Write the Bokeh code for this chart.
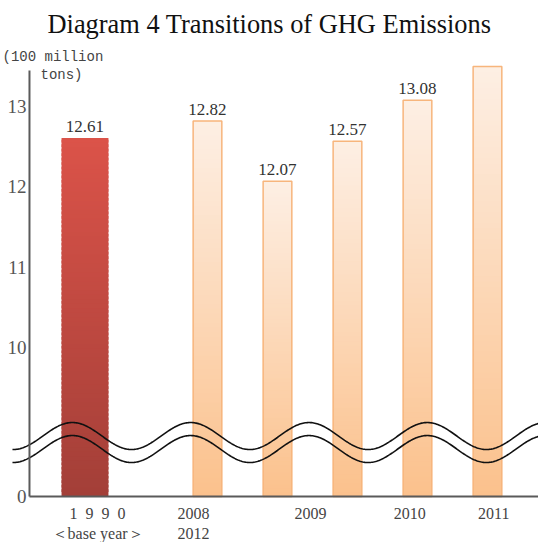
import numpy as np
from bokeh.plotting import figure
from bokeh.models import Range1d, Label
from bokeh.embed import file_html
from bokeh.resources import INLINE
from bokeh.core.properties import value

# ---------------- data ----------------
title_text = "Diagram 4 Transitions of GHG Emissions"
years = ["1990", "2008", "2009", "2010", "2011", "2012"]
emissions = [12.61, 12.82, 12.07, 12.57, 13.08, 13.50]
value_labels = ["12.61", "12.82", "12.07", "12.57", "13.08", ""]
x_tick_labels = ["1\u20029\u20029\u20020\n\uff1cbase year\uff1e", "2008\n2012", "2009", "2010", "2011"]
y_tick_values = [0, 10, 11, 12, 13]
y_tick_labels = ["0", "10", "11", "12", "13"]
unit_lines = ["(100 million", "tons)"]

# ---------------- layout ----------------
BREAK_AT = 10.0        # values below this are cut out of the axis
BREAK_DISPLAY = 1.855  # display height at which BREAK_AT is drawn


def disp(v):
    return 0.0 if v <= 0 else v - BREAK_AT + BREAK_DISPLAY


bar_x = [0, 1.75, 2.75, 3.75, 4.75, 5.75]
bar_w = [0.67, 0.41, 0.41, 0.41, 0.41, 0.41]
x_label_pos = [0.18, 1.55, 3.22, 4.64, 5.84]
x_start, x_end = -1.207, 6.479
axis_x = -0.793
y_start, y_end = -0.573, 5.679
y_axis_top_value = 13.45

W, H = 538, 542
p = figure(width=W, height=H, output_backend="svg", toolbar_location=None,
           x_range=Range1d(x_start, x_end), y_range=Range1d(y_start, y_end),
           min_border_left=0, min_border_right=0, min_border_top=40, min_border_bottom=0)
p.outline_line_color = None
p.xgrid.grid_line_color = None
p.ygrid.grid_line_color = None
p.background_fill_color = "white"
p.border_fill_color = "white"
p.xaxis.visible = False
p.yaxis.visible = False

# title
p.title.text = title_text
p.title.text_font = "Liberation Serif"
p.title.text_font_size = "26.4px"
p.title.text_font_style = "normal"
p.title.text_color = "#111111"
p.title.align = "left"
p.title.offset = 47
p.title.standoff = 4


def mix(c1, c2, t):
    a = [int(c1[i:i + 2], 16) for i in (1, 3, 5)]
    b = [int(c2[i:i + 2], 16) for i in (1, 3, 5)]
    return "#%02x%02x%02x" % tuple(int(round(a[k] + (b[k] - a[k]) * t)) for k in range(3))


# gradient bars
N = 80
L, R, B, T, C = [], [], [], [], []
for i, (xc, v) in enumerate(zip(bar_x, emissions)):
    top = disp(v)
    w = bar_w[i]
    if i == 0:
        c_top, c_bot = "#db5349", "#a33f38"
    else:
        c_top, c_bot = "#fdefe4", "#fbc18c"
    for k in range(N):
        y0 = top * k / N
        y1 = min(top, top * (k + 1.6) / N)
        L.append(xc - w / 2)
        R.append(xc + w / 2)
        B.append(y0)
        T.append(y1)
        C.append(mix(c_bot, c_top, (k + 0.5) / N))
p.quad(left=L, right=R, bottom=B, top=T, fill_color=C, line_color=None)

# outlines of the orange bars
ox = bar_x[1:]
ow = bar_w[1:]
p.quad(left=[x - w / 2 for x, w in zip(ox, ow)], right=[x + w / 2 for x, w in zip(ox, ow)],
       bottom=[0] * len(ox), top=[disp(v) for v in emissions[1:]],
       fill_color=None, line_color="#f7b57c", line_width=1.5)

# value labels
p.text(x=bar_x, y=[disp(v) for v in emissions], text=value_labels,
       text_font=value("Liberation Serif"), text_font_size="17px", text_color="#333333",
       text_align="center", text_baseline="bottom", y_offset=-6)

# wavy break marks
wx = np.linspace(-1.036, x_end + 0.1, 500)
period = 1.69
x_peak = -0.18
wave_center = 0.753
amp = 0.168
gap = 0.162
wy = wave_center + amp * np.cos(2 * np.pi * (wx - x_peak) / period)
p.line(wx, wy, line_color="#111111", line_width=1.6)
p.line(wx, wy - gap, line_color="#111111", line_width=1.6)

# axis lines
p.segment(x0=[axis_x], y0=[0], x1=[axis_x], y1=[disp(y_axis_top_value)],
          line_color="#5a5a5a", line_width=2)
p.segment(x0=[axis_x], y0=[0], x1=[x_end], y1=[0],
          line_color="#5a5a5a", line_width=2)

# y tick labels
p.text(x=[axis_x] * len(y_tick_values), y=[disp(v) for v in y_tick_values], text=y_tick_labels,
       text_font=value("Liberation Serif"), text_font_size="19px", text_color="#555555",
       text_align="right", text_baseline="middle", x_offset=-3)

# x tick labels (two lines)
line1 = [s.split("\n")[0] for s in x_tick_labels]
line2 = [s.split("\n")[1] if "\n" in s else "" for s in x_tick_labels]
p.text(x=x_label_pos, y=[0] * len(x_label_pos), text=line1,
       text_font=value("Liberation Serif"), text_font_size="16px", text_color="#444444",
       text_align="center", text_baseline="middle", y_offset=17)
p.text(x=x_label_pos, y=[0] * len(x_label_pos), text=line2,
       text_font=value("Liberation Serif"), text_font_size="16px", text_color="#444444",
       text_align="center", text_baseline="middle", y_offset=37)

# unit label
p.add_layout(Label(x=x_start, y=y_end, x_offset=2, y_offset=-16, text=unit_lines[0],
                   text_font="Liberation Mono", text_font_size="14px", text_color="#444444",
                   text_baseline="middle"))
p.add_layout(Label(x=x_start, y=y_end, x_offset=40, y_offset=-34, text=unit_lines[1],
                   text_font="Liberation Mono", text_font_size="14px", text_color="#444444",
                   text_baseline="middle"))

open("out.html", "w").write(file_html(p, INLINE))
